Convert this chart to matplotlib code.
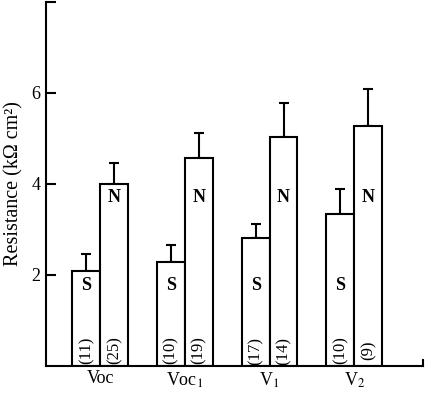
import matplotlib
matplotlib.use("Agg")
import matplotlib.pyplot as plt
import numpy as np

groups = ["Voc", "Voc$_1$", "V$_1$", "V$_2$"]
s_vals = [2.08, 2.28, 2.82, 3.33]
s_err = [0.38, 0.39, 0.31, 0.55]
n_vals = [4.01, 4.57, 5.03, 5.28]
n_err = [0.46, 0.56, 0.75, 0.80]
s_counts = ["(11)", "(10)", "(17)", "(10)"]
n_counts = ["(25)", "(19)", "(14)", "(9)"]

plt.rcParams['font.family'] = ['Liberation Serif', 'DejaVu Serif']
plt.rcParams['mathtext.fontset'] = 'stix'

fig = plt.figure(figsize=(4.35, 3.93), dpi=100)
ax = fig.add_axes([0.1057, 0.0687, 0.972 - 0.1057, 0.995 - 0.0687])

w = 0.33
x = np.arange(len(groups))
xs = x - w / 2
xn = x + w / 2

ax.bar(xs, s_vals, width=w, color='white', edgecolor='black', linewidth=1.5, zorder=2)
ax.bar(xn, n_vals, width=w, color='white', edgecolor='black', linewidth=1.5, zorder=2)
ax.errorbar(xs, s_vals, yerr=[np.zeros(len(s_vals)), s_err], fmt='none',
            ecolor='black', elinewidth=1.5, capsize=3.6, capthick=1.5, zorder=1)
ax.errorbar(xn, n_vals, yerr=[np.zeros(len(n_vals)), n_err], fmt='none',
            ecolor='black', elinewidth=1.5, capsize=3.6, capthick=1.5, zorder=1)

for i in range(len(groups)):
    ax.text(xs[i], 1.77, "S", ha='center', va='center', fontsize=13, fontweight='bold', zorder=3)
    ax.text(xn[i], 3.71, "N", ha='center', va='center', fontsize=13, fontweight='bold', zorder=3)
    ax.text(xs[i], 0.34, s_counts[i], ha='center', va='center', rotation=90, fontsize=12, zorder=3)
    ax.text(xn[i], 0.34, n_counts[i], ha='center', va='center', rotation=90, fontsize=12, zorder=3)

ax.set_xlim(-0.64, 3.81)
ax.set_ylim(0, 8)
ax.set_xticks(x)
ax.set_xticklabels(groups, fontsize=13)
ax.tick_params(axis='x', length=0, pad=3)
ax.set_yticks([2, 4, 6, 8])
ax.set_yticklabels(['2', '4', '6', ''], fontsize=13)
ax.tick_params(axis='y', direction='in', length=7, width=1.5, pad=4)

ax.spines['top'].set_visible(False)
ax.spines['right'].set_bounds(0, 0.13)
for sp in ['left', 'bottom', 'right']:
    ax.spines[sp].set_linewidth(1.5)

ax.set_ylabel("Resistance (k\u03a9 cm\u00b2)", fontsize=14.5, labelpad=6)

fig.savefig("out.png", dpi=100)
